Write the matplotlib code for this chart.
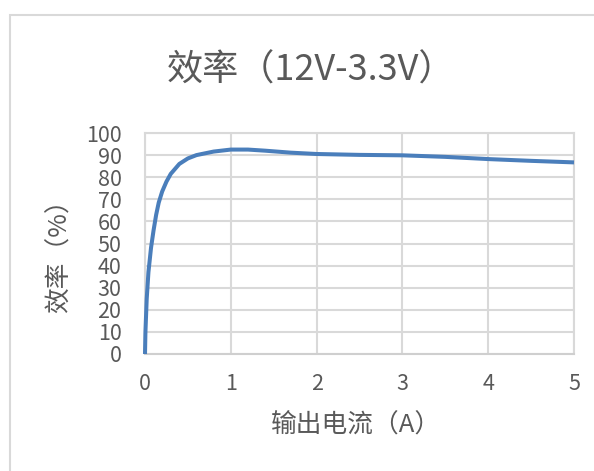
import matplotlib
matplotlib.use("Agg")
import matplotlib.pyplot as plt
from matplotlib.patches import Rectangle

plt.rcParams['font.family'] = ['Noto Sans CJK SC', 'DejaVu Sans']

# efficiency curve (output current A, efficiency %)
current = [0, 0.005, 0.02, 0.04, 0.07, 0.1, 0.13, 0.16, 0.2, 0.25, 0.3, 0.4,
           0.5, 0.6, 0.8, 1.0, 1.2, 1.4, 1.7, 2.0, 2.5, 3.0, 3.5, 4.0, 4.5, 5.0]
efficiency = [0, 10, 25, 37, 48, 56, 63, 68.5, 73.5, 78, 81.5, 86,
              88.5, 90.0, 91.6, 92.5, 92.5, 92.0, 91.1, 90.5, 90.1, 89.9,
              89.2, 88.2, 87.4, 86.7]
x_ticks = [0, 1, 2, 3, 4, 5]
y_ticks = list(range(0, 101, 10))

title = "效率（12V-3.3V）"
x_label = "输出电流（A）"
y_label = "效率（%）"

text_col = "#595959"
grid_col = "#D9D9D9"

W, H = 594, 471
fig = plt.figure(figsize=(W / 100, H / 100), dpi=100)
ax = fig.add_axes([145 / W, 1 - 354 / H, (574 - 145) / W, (354 - 133) / H])

ax.plot(current, efficiency, color="#4A7EBB", linewidth=2.9,
        solid_capstyle="butt", clip_on=False, zorder=3)

ax.set_xlim(0, 5)
ax.set_ylim(0, 100)
ax.set_xticks(x_ticks)
ax.set_yticks(y_ticks)
ax.grid(True, color=grid_col, linewidth=1.5)
for s in ax.spines.values():
    s.set_color(grid_col)
    s.set_linewidth(1.5)
ax.spines["bottom"].set_color("#CFCFCF")
ax.tick_params(length=0, labelsize=15.5, labelcolor=text_col)
ax.tick_params(axis="y", pad=17)
ax.tick_params(axis="x", pad=14)

fig.text(311 / W, 1 - 71 / H, title, fontsize=26, color=text_col,
         ha="center", va="center")
fig.text(356 / W, 1 - 425 / H, x_label, fontsize=18.5, color=text_col,
         ha="center", va="center")
fig.text(60 / W, 1 - 250 / H, y_label, fontsize=18.5, color=text_col,
         ha="center", va="center", rotation=90)

# chart area border (runs off the right and bottom edges)
fig.patches.append(Rectangle((10 / W, -0.1), 1.2, 1 - 15 / H + 0.1,
                             transform=fig.transFigure, fill=False,
                             edgecolor=grid_col, linewidth=1.5))

fig.savefig("out.png", dpi=100)
